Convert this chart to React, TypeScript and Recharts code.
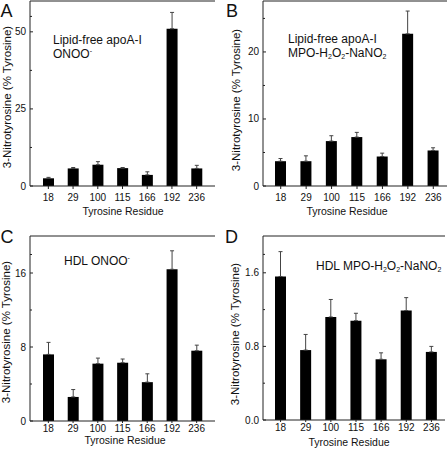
import { Bar, BarChart, ErrorBar, ReferenceLine, XAxis, YAxis } from "recharts"

const residues = ["18", "29", "100", "115", "166", "192", "236"]

// % nitrated tyrosine, mean and upper error
const lipidFreeOnoo = [2.5, 5.7, 6.9, 5.8, 3.6, 51.0, 5.7]
const lipidFreeOnooErr = [0.3, 0.3, 1.0, 0.2, 1.0, 5.3, 1.0]
const lipidFreeMpo = [3.7, 3.7, 6.7, 7.3, 4.4, 22.7, 5.3]
const lipidFreeMpoErr = [0.4, 0.8, 0.8, 0.7, 0.5, 3.4, 0.4]
const hdlOnoo = [7.2, 2.6, 6.2, 6.3, 4.2, 16.4, 7.6]
const hdlOnooErr = [1.3, 0.8, 0.6, 0.4, 0.9, 2.0, 0.6]
const hdlMpo = [1.56, 0.76, 1.12, 1.08, 0.66, 1.19, 0.74]
const hdlMpoErr = [0.27, 0.17, 0.19, 0.08, 0.07, 0.14, 0.06]

const ticksA = [0, 25, 50]
const minorA = [12.5, 37.5, 55]
const ticksB = [0, 10, 20]
const minorB = [5, 15, 25]
const ticksC = [0, 8, 16]
const minorC = [4, 12, 18]
const ticksD = [0, 0.8, 1.6]
const minorD = [0.4, 1.2, 1.8]

const FONT = "'Liberation Sans', Arial, Helvetica, sans-serif"
const INK = "#111"
const AXIS = "#222"

function makeYTick(major: number[], fmt: (v: number) => string) {
  return (props: any) => {
    const { x, y, payload } = props
    const isMajor = major.includes(payload.value)
    return (
      <g>
        <line x1={x} x2={x + (isMajor ? 3 : 2)} y1={y} y2={y} stroke={AXIS} />
        {isMajor && (
          <text
            x={x - 4}
            y={y}
            textAnchor="end"
            dominantBaseline="central"
            fontSize={10}
            fill={INK}
            fontFamily={FONT}
          >
            {fmt(payload.value)}
          </text>
        )}
      </g>
    )
  }
}

type PanelProps = {
  left: number
  top: number
  mean: number[]
  err: number[]
  domain: [number, number]
  major: number[]
  minor: number[]
  fmt: (v: number) => string
  yWidth: number
  xHeight: number
  marginTop: number
  marginRight: number
  pad: { left: number; right: number }
  xTickSize: number
  xTickMargin: number
}

function Panel(p: PanelProps) {
  const data = residues.map((r, i) => ({ residue: r, value: p.mean[i], err: [0, p.err[i]] }))
  const ticks = [...p.major, ...p.minor].sort((a, b) => a - b)
  return (
    <div style={{ position: "absolute", left: p.left, top: p.top }}>
      <BarChart
        width={224}
        height={226}
        data={data}
        margin={{ top: p.marginTop, right: p.marginRight, left: 0, bottom: 0 }}
      >
        <XAxis
          dataKey="residue"
          height={p.xHeight}
          padding={p.pad}
          interval={0}
          tickSize={p.xTickSize}
          tickMargin={p.xTickMargin}
          stroke={AXIS}
          tick={{ fontSize: 10, fill: INK, fontFamily: FONT }}
        />
        <YAxis
          width={p.yWidth}
          domain={p.domain}
          ticks={ticks}
          interval={0}
          allowDataOverflow
          tickSize={0}
          tickMargin={0}
          tickLine={false}
          stroke={AXIS}
          tick={makeYTick(p.major, p.fmt)}
        />
        <YAxis
          yAxisId="right"
          orientation="right"
          width={0}
          domain={p.domain}
          tick={false}
          tickLine={false}
          stroke={AXIS}
        />
        {/* top edge of the frame */}
        <ReferenceLine y={p.domain[1]} stroke={AXIS} ifOverflow="visible" />
        <Bar dataKey="value" fill="#000" barSize={11} isAnimationActive={false}>
          <ErrorBar
            dataKey="err"
            direction="y"
            width={2}
            stroke="#444"
            strokeWidth={1}
            isAnimationActive={false}
          />
        </Bar>
      </BarChart>
    </div>
  )
}

const int = (v: number) => String(v)
const dec = (v: number) => v.toFixed(1)

export default function App() {
  return (
    <div
      style={{
        position: "absolute",
        left: 0,
        top: 0,
        width: 448,
        height: 452,
        background: "#fff",
        fontFamily: FONT,
      }}
    >
      <Panel
        left={0}
        top={0}
        mean={lipidFreeOnoo}
        err={lipidFreeOnooErr}
        domain={[0, 60]}
        major={ticksA}
        minor={minorA}
        fmt={int}
        yWidth={30}
        xHeight={40}
        marginTop={1}
        marginRight={9}
        pad={{ left: 6, right: 6 }}
        xTickSize={3}
        xTickMargin={5}
      />
      <Panel
        left={224}
        top={0}
        mean={lipidFreeMpo}
        err={lipidFreeMpoErr}
        domain={[0, 27.6]}
        major={ticksB}
        minor={minorB}
        fmt={int}
        yWidth={39}
        xHeight={40}
        marginTop={1}
        marginRight={1}
        pad={{ left: 5, right: 1 }}
        xTickSize={3}
        xTickMargin={5}
      />
      <Panel
        left={0}
        top={226}
        mean={hdlOnoo}
        err={hdlOnooErr}
        domain={[0, 20]}
        major={ticksC}
        minor={minorC}
        fmt={int}
        yWidth={30}
        xHeight={31}
        marginTop={10}
        marginRight={9}
        pad={{ left: 6, right: 6 }}
        xTickSize={2}
        xTickMargin={2}
      />
      <Panel
        left={224}
        top={226}
        mean={hdlMpo}
        err={hdlMpoErr}
        domain={[0, 2]}
        major={ticksD}
        minor={minorD}
        fmt={dec}
        yWidth={39}
        xHeight={32}
        marginTop={10}
        marginRight={3}
        pad={{ left: 5, right: 1 }}
        xTickSize={2}
        xTickMargin={2}
      />

      {/* panel letters, inset labels and axis titles */}
      <svg
        width={448}
        height={452}
        style={{ position: "absolute", left: 0, top: 0, pointerEvents: "none" }}
        fontFamily={FONT}
        fill={INK}
      >
        <text x={0.5} y={16.5} fontSize={18}>A</text>
        <text x={226} y={16.5} fontSize={18}>B</text>
        <text x={0.5} y={243} fontSize={18}>C</text>
        <text x={225} y={243} fontSize={18}>D</text>

        <text x={53} y={44} fontSize={12}>Lipid-free apoA-I</text>
        <text x={53} y={57.5} fontSize={12}>
          ONOO<tspan fontSize={7} dy={-5}>-</tspan>
        </text>

        <text x={288} y={43} fontSize={12}>Lipid-free apoA-I</text>
        <text x={288} y={57} fontSize={12}>
          MPO-H<tspan fontSize={7} dy={2}>2</tspan>
          <tspan dy={-2}>O</tspan>
          <tspan fontSize={7} dy={2}>2</tspan>
          <tspan dy={-2}>-NaNO</tspan>
          <tspan fontSize={7} dy={2}>2</tspan>
        </text>

        <text x={64} y={265} fontSize={12}>
          HDL ONOO<tspan fontSize={7} dy={-5}>-</tspan>
        </text>

        <text x={316} y={269.5} fontSize={12}>
          HDL MPO-H<tspan fontSize={7} dy={2}>2</tspan>
          <tspan dy={-2}>O</tspan>
          <tspan fontSize={7} dy={2}>2</tspan>
          <tspan dy={-2}>-NaNO</tspan>
          <tspan fontSize={7} dy={2}>2</tspan>
        </text>

        <text x={123} y={211} fontSize={10.5} textAnchor="middle" dominantBaseline="central">
          Tyrosine Residue
        </text>
        <text x={347} y={211} fontSize={10.5} textAnchor="middle" dominantBaseline="central">
          Tyrosine Residue
        </text>
        <text x={125} y={440} fontSize={10.5} textAnchor="middle" dominantBaseline="central">
          Tyrosine Residue
        </text>
        <text x={349} y={442} fontSize={10.5} textAnchor="middle" dominantBaseline="central">
          Tyrosine Residue
        </text>

        <text
          transform="translate(6.5,97) rotate(-90)"
          fontSize={11.5}
          textAnchor="middle"
          dominantBaseline="central"
        >
          3-Nitrotyrosine (% Tyrosine)
        </text>
        <text
          transform="translate(236,100) rotate(-90)"
          fontSize={11.5}
          textAnchor="middle"
          dominantBaseline="central"
        >
          3-Nitrotyrosine (% Tyrosine)
        </text>
        <text
          transform="translate(5.5,332) rotate(-90)"
          fontSize={11.5}
          textAnchor="middle"
          dominantBaseline="central"
        >
          3-Nitrotyrosine (% Tyrosine)
        </text>
        <text
          transform="translate(235,334) rotate(-90)"
          fontSize={11.5}
          textAnchor="middle"
          dominantBaseline="central"
        >
          3-Nitrotyrosine (% Tyrosine)
        </text>
      </svg>
    </div>
  )
}
